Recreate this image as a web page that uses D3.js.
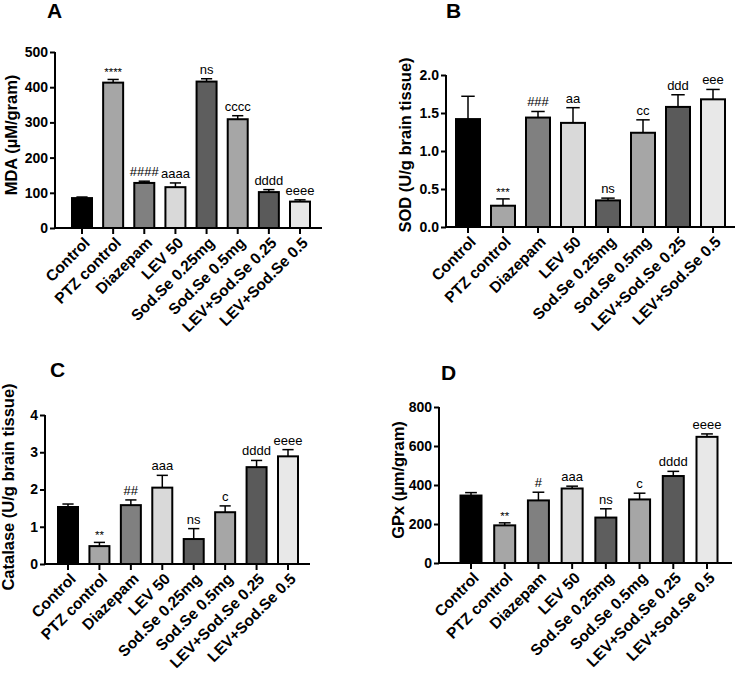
<!DOCTYPE html>
<html><head><meta charset="utf-8">
<script src="https://cdn.jsdelivr.net/npm/d3@7"></script>
<style>body{margin:0;background:#fff}svg{display:block}</style>
</head><body>
<svg id="c" width="738" height="685"></svg>
<script>
const categories = ["Control","PTZ control","Diazepam","LEV 50","Sod.Se 0.25mg","Sod.Se 0.5mg","LEV+Sod.Se 0.25","LEV+Sod.Se 0.5"];
const barColors = ["#000000","#a6a6a6","#808080","#d9d9d9","#5e5e5e","#a6a6a6","#5a5a5a","#e8e8e8"];

const mdaMean = [85,413,128,116,416,309,102,75];
const mdaErr  = [3,9,5,12,8,10,7,5];
const mdaAnn  = ["","****","####","aaaa","ns","cccc","dddd","eeee"];
const mdaTicks = [0,100,200,300,400,500];

const sodMean = [1.42,0.28,1.44,1.37,0.35,1.24,1.58,1.68];
const sodErr  = [0.30,0.09,0.08,0.20,0.03,0.17,0.16,0.13];
const sodAnn  = ["","***","###","aa","ns","cc","ddd","eee"];
const sodTicks = [0,0.5,1.0,1.5,2.0];

const catMean = [1.53,0.48,1.58,2.05,0.67,1.39,2.60,2.89];
const catErr  = [0.08,0.10,0.14,0.33,0.28,0.17,0.18,0.18];
const catAnn  = ["","**","##","aaa","ns","c","dddd","eeee"];
const catTicks = [0,1,2,3,4];

const gpxMean = [346,193,321,382,233,326,446,647];
const gpxErr  = [15,13,42,12,45,32,24,15];
const gpxAnn  = ["","**","#","aaa","ns","c","dddd","eeee"];
const gpxTicks = [0,200,400,600,800];

const svg = d3.select("#c");
const FONT = "'Liberation Sans', Arial, sans-serif";

function panel(o){
  const g = svg.append("g");
  const y = d3.scaleLinear().domain([0, o.ymax]).range([o.y0, o.ytop]);
  const x = d3.scalePoint().domain(categories).range([o.c0, o.c1]);
  // bars
  categories.forEach((c,i)=>{
    const cx = x(c);
    g.append("rect").attr("x", cx - o.bw/2).attr("width", o.bw)
      .attr("y", y(o.mean[i])).attr("height", y(0)-y(o.mean[i]))
      .attr("fill", barColors[i]).attr("stroke","#000").attr("stroke-width",2);
    const top = y(o.mean[i] + o.err[i]);
    g.append("line").attr("x1",cx).attr("x2",cx).attr("y1",y(o.mean[i])).attr("y2",top)
      .attr("stroke","#000").attr("stroke-width",1.5);
    g.append("line").attr("x1",cx-o.bw*0.28).attr("x2",cx+o.bw*0.28).attr("y1",top).attr("y2",top)
      .attr("stroke","#000").attr("stroke-width",1.5);
    if (o.ann[i]) {
      const stars = o.ann[i].startsWith("*");
      g.append("text").attr("x",cx).attr("y", top - (stars?3:5))
        .attr("text-anchor","middle").attr("font-family",FONT)
        .attr("font-size", stars? 11.5 : 13).attr("fill","#000").text(o.ann[i]);
    }
  });
  // y axis
  const ya = d3.axisLeft(y).tickValues(o.ticks).tickSize(5).tickPadding(2)
     .tickFormat(o.fmt);
  const yg = g.append("g").attr("transform",`translate(${o.ax},0)`).call(ya);
  yg.select(".domain").attr("stroke-width",2).attr("d",`M0,${o.ytop}V${o.y0}`);
  yg.selectAll(".tick line").attr("stroke-width",2);
  yg.selectAll("text").attr("font-family",FONT).attr("font-weight","bold").attr("font-size",14).attr("fill","#000");
  // x axis
  g.append("line").attr("x1",o.ax-1).attr("x2",o.axEnd).attr("y1",o.y0).attr("y2",o.y0)
    .attr("stroke","#000").attr("stroke-width",2.2);
  categories.forEach((c,i)=>{
    const cx = x(c);
    g.append("line").attr("x1",cx).attr("x2",cx).attr("y1",o.y0).attr("y2",o.y0+6)
      .attr("stroke","#000").attr("stroke-width",2);
    g.append("text").attr("transform",`translate(${cx+5},${o.y0+12}) rotate(-45)`)
      .attr("text-anchor","end").attr("dy","0.35em")
      .attr("font-family",FONT).attr("font-weight","bold").attr("font-size",15.5)
      .attr("fill","#000").text(c);
  });
  // y label
  g.append("text").attr("transform",`translate(${o.lx},${o.ly}) rotate(-90)`)
    .attr("text-anchor","middle").attr("dy","0.35em")
    .attr("font-family",FONT).attr("font-weight","bold").attr("font-size",16.5)
    .attr("fill","#000").text(o.label);
  // panel letter
  g.append("text").attr("x",o.px).attr("y",o.py).attr("font-family",FONT)
    .attr("font-weight","bold").attr("font-size",21).attr("fill","#000").text(o.letter);
}

panel({mean:mdaMean, err:mdaErr, ann:mdaAnn, ticks:mdaTicks, ymax:500, fmt:d3.format("d"),
  ax:55, axEnd:322, c0:82, c1:300, y0:228, ytop:52, bw:20,
  label:"MDA (\u00b5M/gram)", lx:11, ly:135, letter:"A", px:47, py:18});
panel({mean:sodMean, err:sodErr, ann:sodAnn, ticks:sodTicks, ymax:2.0, fmt:d3.format(".1f"),
  ax:446, axEnd:735, c0:468, c1:713, y0:227, ytop:75, bw:24,
  label:"SOD (U/g brain tissue)", lx:405, ly:145, letter:"B", px:446, py:18});
panel({mean:catMean, err:catErr, ann:catAnn, ticks:catTicks, ymax:4, fmt:d3.format("d"),
  ax:45, axEnd:310, c0:68, c1:288, y0:564, ytop:415, bw:20,
  label:"Catalase (U/g brain tissue)", lx:8, ly:487, letter:"C", px:50, py:377});
panel({mean:gpxMean, err:gpxErr, ann:gpxAnn, ticks:gpxTicks, ymax:800, fmt:d3.format("d"),
  ax:439, axEnd:732, c0:471, c1:707, y0:563, ytop:407, bw:21,
  label:"GPx (\u00b5m/gram)", lx:398, ly:480, letter:"D", px:441, py:380});
</script>
</body></html>
